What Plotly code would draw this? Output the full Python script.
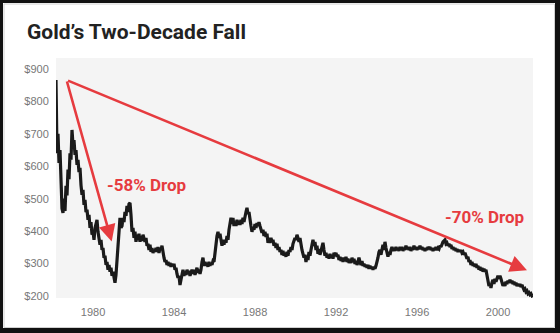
import numpy as np
import plotly.graph_objects as go

# ---- data ----
START_YEAR = 1978.17          # first sample (decimal year)
STEP = 1 / 20.25              # spacing between samples (years)

prices = [
    866, 640, 700, 610, 650, 540, 470, 456, 500, 462,
    540, 510, 590, 560, 640, 620, 712, 666, 681, 635,
    650, 604, 620, 582, 595, 542, 512, 527, 481, 496,
    459, 466, 435, 450, 410, 428, 389, 398, 373, 410,
    428, 435, 398, 379, 358, 373, 342, 348, 318, 324,
    296, 305, 281, 296, 275, 287, 262, 275, 250, 241,
    265, 305, 358, 389, 441, 410, 416, 441, 428, 459,
    447, 478, 459, 484, 487, 450, 398, 410, 379, 398,
    367, 389, 373, 392, 367, 385, 370, 389, 380, 367,
    379, 355, 361, 342, 358, 336, 348, 333, 342, 336,
    348, 336, 351, 333, 348, 342, 355, 327, 318, 305,
    311, 296, 305, 293, 302, 290, 299, 293, 299, 281,
    287, 268, 256, 262, 234, 250, 265, 281, 262, 275,
    265, 281, 268, 278, 262, 275, 281, 268, 281, 265,
    275, 287, 272, 281, 268, 281, 305, 318, 293, 305,
    293, 302, 290, 305, 293, 302, 296, 308, 305, 336,
    358, 385, 398, 379, 392, 367, 355, 373, 358, 373,
    364, 385, 373, 404, 428, 441, 422, 441, 416, 428,
    416, 435, 419, 432, 419, 435, 422, 441, 428, 453,
    459, 472, 453, 459, 428, 416, 398, 410, 404, 422,
    410, 425, 416, 428, 416, 407, 395, 404, 385, 398,
    382, 392, 364, 379, 364, 379, 367, 373, 355, 364,
    348, 361, 342, 351, 336, 342, 327, 339, 324, 333,
    321, 336, 324, 342, 336, 351, 342, 361, 373, 379,
    373, 389, 379, 367, 379, 355, 342, 330, 318, 327,
    305, 324, 311, 336, 324, 342, 361, 373, 355, 367,
    342, 355, 330, 345, 327, 342, 355, 364, 342, 324,
    333, 318, 327, 315, 330, 318, 327, 315, 333, 324,
    333, 321, 327, 311, 321, 308, 318, 305, 318, 308,
    321, 305, 315, 302, 311, 302, 318, 305, 315, 299,
    308, 296, 305, 318, 305, 296, 308, 293, 299, 290,
    296, 287, 296, 284, 293, 284, 290, 281, 290, 284,
    293, 302, 318, 336, 342, 327, 348, 358, 342, 367,
    348, 333, 321, 336, 327, 342, 351, 339, 348, 339,
    351, 342, 348, 339, 351, 342, 351, 339, 348, 342,
    355, 345, 351, 342, 351, 339, 348, 342, 355, 345,
    351, 342, 351, 345, 355, 345, 351, 342, 348, 339,
    348, 342, 351, 345, 351, 342, 348, 339, 348, 342,
    351, 342, 348, 345, 355, 351, 361, 367, 370, 373,
    361, 364, 355, 361, 351, 358, 345, 351, 342, 348,
    339, 345, 336, 342, 336, 342, 333, 336, 327, 333,
    324, 315, 321, 305, 311, 296, 305, 293, 299, 290,
    299, 287, 293, 281, 290, 278, 287, 275, 284, 275,
    281, 265, 244, 231, 237, 225, 241, 250, 237, 253,
    244, 256, 262, 253, 262, 253, 241, 231, 241, 231,
    244, 237, 247, 241, 250, 241, 247, 237, 244, 234,
    241, 231, 237, 231, 237, 228, 234, 225, 219, 222,
    213, 216, 207, 210, 204, 207, 201, 204,
]

y_ticks = [200, 300, 400, 500, 600, 700, 800, 900]
y_tick_labels = ["$200", "$300", "$400", "$500", "$600", "$700", "$800", "$900"]
x_ticks = [1980, 1984, 1988, 1992, 1996, 2000]
x_tick_labels = ["1980", "1984", "1988", "1992", "1996", "2000"]

arrow_tail = (1978.69, 866)
drop_heads = [(1980.92, 368), (2001.43, 279)]
drop_labels = ["-58% Drop", "-70% Drop"]
label_pos = [(1982.62, 542), (1999.31, 444)]

years = START_YEAR + np.arange(len(prices)) * STEP

RED = "#e63b3f"

fig = go.Figure()
fig.add_trace(go.Scatter(
    x=years, y=prices, mode="lines",
    line=dict(color="#1a1a1a", width=3.2),
    hoverinfo="skip", showlegend=False,
))

annotations = []
for (hx, hy) in drop_heads:
    annotations.append(dict(
        x=hx, y=hy, xref="x", yref="y",
        ax=arrow_tail[0], ay=arrow_tail[1], axref="x", ayref="y",
        text="", showarrow=True, arrowhead=2, arrowsize=1.3,
        arrowwidth=2.6, arrowcolor=RED, standoff=0, startstandoff=0,
    ))
for txt, (lx, ly) in zip(drop_labels, label_pos):
    annotations.append(dict(
        x=lx, y=ly, xref="x", yref="y", text=txt, showarrow=False,
        font=dict(family="Roboto", size=17, color=RED, weight="bold"),
        xanchor="center", yanchor="middle",
    ))

# plot area geometry (px)
L, T, R, B = 56, 58, 533, 298
W, H = 560, 333
pw, ph = R - L, B - T


def fx(px):
    return (px - L) / pw


def fy(py):
    return (B - py) / ph


shapes = [
    dict(type="rect", xref="paper", yref="paper",
         x0=fx(4), x1=fx(554.5), y0=fy(4), y1=fy(327.5),
         line=dict(color="#d0d0d0", width=1), fillcolor="rgba(0,0,0,0)",
         layer="above"),
    dict(type="rect", xref="paper", yref="paper", x0=fx(-2), x1=fx(3),
         y0=fy(-2), y1=fy(335), fillcolor="#111111", line=dict(width=0), layer="above"),
    dict(type="rect", xref="paper", yref="paper", x0=fx(555), x1=fx(562),
         y0=fy(-2), y1=fy(335), fillcolor="#111111", line=dict(width=0), layer="above"),
    dict(type="rect", xref="paper", yref="paper", x0=fx(-2), x1=fx(562),
         y0=fy(-2), y1=fy(3), fillcolor="#111111", line=dict(width=0), layer="above"),
    dict(type="rect", xref="paper", yref="paper", x0=fx(-2), x1=fx(562),
         y0=fy(328), y1=fy(335), fillcolor="#111111", line=dict(width=0), layer="above"),
]

fig.update_layout(
    width=W, height=H,
    margin=dict(l=L, r=W - R, t=T, b=H - B, pad=0),
    paper_bgcolor="white", plot_bgcolor="#f4f4f4",
    title=dict(text="Gold’s Two-Decade Fall", xref="container", yref="container",
               x=27 / W, y=1 - 32 / H, xanchor="left", yanchor="middle",
               font=dict(family="Roboto", size=21, color="#222222", weight="bold")),
    xaxis=dict(range=[START_YEAR, START_YEAR + 477 * STEP + 0.002],
               tickmode="array", tickvals=x_ticks, ticktext=x_tick_labels,
               showgrid=False, zeroline=False, showline=False,
               ticks="outside", ticklen=4, tickcolor="rgba(0,0,0,0)",
               tickfont=dict(family="Liberation Sans, Arial", size=11, color="#777777")),
    yaxis=dict(range=[193.8, 933.9],
               tickmode="array", tickvals=y_ticks, ticktext=y_tick_labels,
               showgrid=False, zeroline=False, showline=False,
               ticks="outside", ticklen=4, tickcolor="rgba(0,0,0,0)",
               tickfont=dict(family="Liberation Sans, Arial", size=11, color="#777777")),
    annotations=annotations, shapes=shapes,
    showlegend=False,
)

fig.write_html("out.html")
